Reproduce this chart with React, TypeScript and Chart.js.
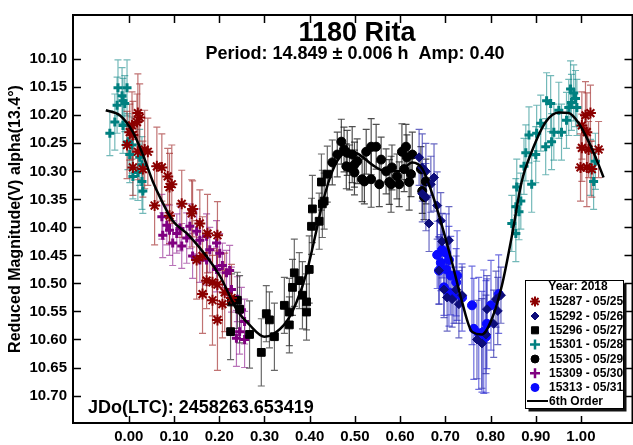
import React, { useEffect, useRef } from 'react';
import { Chart, registerables } from 'chart.js';
import { drawPoint } from 'chart.js/helpers';

Chart.register(...registerables);

const FONT = "'Liberation Sans', Arial, Helvetica, sans-serif";

// ---- texts ----
const titleText = '1180 Rita';
const subtitleText = 'Period: 14.849 ± 0.006 h  Amp: 0.40';
const epochText = 'JDo(LTC): 2458263.653419';
const yAxisTitle = 'Reduced Magnitude(V) alpha(13.4°)';
const legendHeader = 'Year: 2018';
const fitLabel = '6th Order';

// ---- axes ----
const xTicks = [0, 0.1, 0.2, 0.3, 0.4, 0.5, 0.6, 0.7, 0.8, 0.9, 1.0];
const yTicks = [10.1, 10.15, 10.2, 10.25, 10.3, 10.35, 10.4, 10.45, 10.5, 10.55, 10.6, 10.65, 10.7];
const xRange = [-0.1235, 1.114];
const yRange = [10.021, 10.749];

// ---- observations: [phase, reduced mag, error] ----
type Obs = [number, number, number];

const s15287: Obs[] = [
  [0.020, 10.196, 0.07], [0.024, 10.204, 0.06], [0.018, 10.212, 0.05], [0.007, 10.218, 0.06],
  [0.002, 10.230, 0.05], [0.009, 10.235, 0.06], [-0.004, 10.253, 0.06], [0.020, 10.265, 0.05],
  [0.035, 10.261, 0.07], [0.042, 10.265, 0.06], [0.009, 10.293, 0.05], [0.031, 10.296, 0.05],
  [0.062, 10.291, 0.07], [0.073, 10.293, 0.06], [0.086, 10.309, 0.05], [0.090, 10.328, 0.06],
  [0.095, 10.323, 0.07], [0.057, 10.361, 0.07], [0.117, 10.358, 0.06], [0.141, 10.367, 0.05],
  [0.139, 10.375, 0.06], [0.090, 10.379, 0.05], [0.157, 10.393, 0.06], [0.174, 10.411, 0.07],
  [0.196, 10.414, 0.06], [0.163, 10.451, 0.07], [0.185, 10.498, 0.06], [0.150, 10.458, 0.07],
  [0.172, 10.495, 0.05], [0.196, 10.502, 0.06], [0.163, 10.519, 0.07], [0.185, 10.530, 0.08],
  [0.196, 10.565, 0.09], [0.207, 10.537, 0.06], [0.212, 10.516, 0.07], [0.227, 10.526, 0.06],
  [1.010, 10.200, 0.06], [1.021, 10.196, 0.05], [1.002, 10.218, 0.06], [1.013, 10.230, 0.07],
  [1.002, 10.258, 0.06], [1.017, 10.261, 0.05], [1.039, 10.261, 0.05], [0.999, 10.293, 0.06],
  [1.013, 10.293, 0.07], [1.024, 10.296, 0.05],
];

const s15292: Obs[] = [
  [0.642, 10.275, 0.05], [0.649, 10.293, 0.06], [0.657, 10.300, 0.05], [0.675, 10.311, 0.06],
  [0.649, 10.340, 0.05], [0.657, 10.346, 0.06], [0.668, 10.323, 0.05], [0.682, 10.361, 0.06],
  [0.664, 10.393, 0.05], [0.690, 10.388, 0.05], [0.708, 10.423, 0.06], [0.693, 10.425, 0.05],
  [0.686, 10.477, 0.06], [0.697, 10.511, 0.05], [0.704, 10.525, 0.06], [0.715, 10.528, 0.05],
  [0.724, 10.511, 0.06], [0.737, 10.521, 0.05], [0.730, 10.537, 0.06], [0.770, 10.600, 0.07],
  [0.781, 10.607, 0.08], [0.790, 10.591, 0.07], [0.807, 10.572, 0.06], [0.816, 10.549, 0.06],
  [0.812, 10.528, 0.05], [0.823, 10.521, 0.05], [0.792, 10.546, 0.06],
];

const s15296: Obs[] = [
  [0.227, 10.533, 0.05], [0.240, 10.530, 0.05], [0.245, 10.546, 0.06], [0.225, 10.586, 0.05],
  [0.267, 10.591, 0.06], [0.293, 10.623, 0.06], [0.304, 10.554, 0.05], [0.311, 10.565, 0.05],
  [0.322, 10.595, 0.06], [0.344, 10.539, 0.05], [0.355, 10.551, 0.06], [0.355, 10.574, 0.05],
  [0.362, 10.507, 0.05], [0.366, 10.481, 0.06], [0.377, 10.495, 0.05], [0.384, 10.521, 0.06],
  [0.393, 10.533, 0.05], [0.393, 10.551, 0.05], [0.399, 10.475, 0.06], [0.404, 10.398, 0.05],
  [0.406, 10.367, 0.06], [0.421, 10.389, 0.05], [0.428, 10.358, 0.06], [0.426, 10.319, 0.05],
  [0.432, 10.353, 0.05], [0.439, 10.305, 0.05],
];

const s15301: Obs[] = [
  [-0.024, 10.151, 0.05], [-0.015, 10.165, 0.05], [-0.004, 10.151, 0.05], [-0.013, 10.174, 0.04],
  [-0.026, 10.182, 0.05], [-0.009, 10.179, 0.05], [-0.031, 10.212, 0.05], [-0.042, 10.232, 0.04],
  [-0.013, 10.218, 0.05], [-0.002, 10.247, 0.05], [0.007, 10.253, 0.05], [0.002, 10.270, 0.05],
  [0.024, 10.275, 0.05], [0.029, 10.288, 0.05], [0.020, 10.302, 0.05], [0.029, 10.318, 0.05],
  [0.009, 10.309, 0.04], [0.031, 10.335, 0.04],
  [0.977, 10.153, 0.05], [0.984, 10.160, 0.05], [0.988, 10.170, 0.05], [0.979, 10.177, 0.05],
  [0.973, 10.186, 0.05], [0.991, 10.186, 0.05], [0.924, 10.174, 0.05], [0.933, 10.179, 0.05],
  [0.951, 10.191, 0.05], [0.968, 10.209, 0.05], [0.911, 10.214, 0.05], [0.885, 10.235, 0.05],
  [0.902, 10.232, 0.05], [0.940, 10.230, 0.05], [0.957, 10.230, 0.05], [0.935, 10.247, 0.05],
  [0.922, 10.256, 0.05], [0.878, 10.267, 0.05], [0.900, 10.270, 0.05], [0.874, 10.291, 0.05],
  [0.891, 10.323, 0.05], [0.858, 10.328, 0.05], [0.856, 10.363, 0.05], [0.863, 10.372, 0.05],
  [0.847, 10.393, 0.05], [0.856, 10.411, 0.05], [1.032, 10.282, 0.05], [1.028, 10.318, 0.05],
  [1.021, 10.293, 0.05], [0.867, 10.353, 0.05],
];

const s15305: Obs[] = [
  [0.450, 10.284, 0.04], [0.470, 10.247, 0.04], [0.476, 10.261, 0.04], [0.461, 10.270, 0.04],
  [0.483, 10.267, 0.04], [0.494, 10.270, 0.05], [0.488, 10.293, 0.04], [0.499, 10.288, 0.04],
  [0.481, 10.291, 0.04], [0.499, 10.302, 0.04], [0.525, 10.265, 0.04], [0.536, 10.256, 0.05],
  [0.547, 10.256, 0.04], [0.521, 10.318, 0.04], [0.536, 10.314, 0.05], [0.558, 10.279, 0.04],
  [0.554, 10.323, 0.04], [0.569, 10.300, 0.04], [0.576, 10.319, 0.04], [0.580, 10.323, 0.05],
  [0.582, 10.293, 0.04], [0.598, 10.323, 0.04], [0.604, 10.265, 0.05], [0.613, 10.256, 0.04],
  [0.615, 10.275, 0.04], [0.609, 10.296, 0.04], [0.624, 10.305, 0.04], [0.620, 10.319, 0.05],
  [0.627, 10.270, 0.04], [0.646, 10.296, 0.04], [0.657, 10.318, 0.04], [0.649, 10.335, 0.04],
  [0.653, 10.346, 0.04], [0.593, 10.309, 0.04], [0.516, 10.314, 0.04], [0.505, 10.282, 0.04],
];

const s15309: Obs[] = [
  [0.073, 10.381, 0.04], [0.084, 10.396, 0.035], [0.075, 10.414, 0.04], [0.090, 10.405, 0.045],
  [0.097, 10.428, 0.04], [0.106, 10.411, 0.035], [0.113, 10.402, 0.04], [0.117, 10.433, 0.04],
  [0.128, 10.419, 0.045], [0.135, 10.398, 0.04], [0.150, 10.407, 0.04], [0.157, 10.423, 0.035],
  [0.157, 10.458, 0.04], [0.172, 10.416, 0.04], [0.172, 10.458, 0.045], [0.179, 10.440, 0.04],
  [0.194, 10.428, 0.04], [0.194, 10.475, 0.04], [0.201, 10.446, 0.035], [0.207, 10.468, 0.04],
  [0.216, 10.481, 0.04], [0.223, 10.477, 0.045], [0.227, 10.511, 0.04], [0.240, 10.528, 0.04],
  [0.249, 10.547, 0.04], [0.256, 10.568, 0.04], [0.245, 10.586, 0.04], [0.256, 10.600, 0.05],
  [0.238, 10.598, 0.05], [0.141, 10.451, 0.04],
];

const s15313: Obs[] = [
  [0.682, 10.449, 0.06], [0.693, 10.440, 0.05], [0.702, 10.446, 0.07], [0.690, 10.463, 0.05],
  [0.708, 10.458, 0.06], [0.702, 10.475, 0.05], [0.686, 10.477, 0.06], [0.712, 10.486, 0.07],
  [0.724, 10.498, 0.06], [0.726, 10.486, 0.08], [0.697, 10.507, 0.05], [0.708, 10.516, 0.06],
  [0.719, 10.521, 0.05], [0.737, 10.525, 0.06], [0.759, 10.539, 0.07], [0.763, 10.581, 0.09],
  [0.774, 10.589, 0.10], [0.781, 10.604, 0.09], [0.790, 10.595, 0.10], [0.792, 10.572, 0.08],
  [0.785, 10.586, 0.11], [0.801, 10.539, 0.08], [0.818, 10.519, 0.07],
];

// ---- 6th order fit curve: [phase, mag] ----
const fitCurve: [number, number][] = [
  [-0.051, 10.191], [-0.020, 10.200], [0.009, 10.230], [0.031, 10.270], [0.053, 10.318],
  [0.073, 10.353], [0.097, 10.388], [0.135, 10.416], [0.201, 10.486], [0.238, 10.546],
  [0.267, 10.574], [0.300, 10.595], [0.318, 10.591], [0.349, 10.568], [0.371, 10.533],
  [0.393, 10.481], [0.415, 10.405], [0.428, 10.358], [0.450, 10.300], [0.472, 10.270],
  [0.494, 10.265], [0.510, 10.270], [0.538, 10.288], [0.569, 10.300], [0.598, 10.300],
  [0.627, 10.284], [0.649, 10.295], [0.671, 10.340], [0.693, 10.398], [0.715, 10.463],
  [0.737, 10.533], [0.759, 10.586], [0.781, 10.591], [0.803, 10.563], [0.825, 10.504],
  [0.847, 10.416], [0.869, 10.318], [0.891, 10.265], [0.922, 10.212], [0.951, 10.195],
  [0.973, 10.196], [0.995, 10.214], [1.017, 10.247], [1.039, 10.288], [1.050, 10.311],
];

const seriesLabels = ['15287 - 05/25', '15292 - 05/26', '15296 - 05/27', '15301 - 05/28', '15305 - 05/29', '15309 - 05/30', '15313 - 05/31'];
const seriesData = [s15287, s15292, s15296, s15301, s15305, s15309, s15313];

const seriesStyle = [
  { pointStyle: 'star', color: '#8b0000', err: 'rgba(160,40,40,0.65)', r: 5.5, bw: 2, lr: 5, lbw: 2 },
  { pointStyle: 'rectRot', color: '#0c0c7a', err: 'rgba(40,40,170,0.7)', r: 4.5, bw: 1, lr: 4, lbw: 1 },
  { pointStyle: 'rect', color: '#000000', err: 'rgba(40,40,40,0.7)', r: 5.5, bw: 1, lr: 5, lbw: 1 },
  { pointStyle: 'cross', color: '#008080', err: 'rgba(0,128,128,0.55)', r: 4.5, bw: 3, lr: 5, lbw: 2.5 },
  { pointStyle: 'circle', color: '#000000', err: 'rgba(20,20,20,0.75)', r: 4.5, bw: 1, lr: 4, lbw: 1 },
  { pointStyle: 'cross', color: '#800080', err: 'rgba(128,0,128,0.55)', r: 4.5, bw: 3, lr: 5, lbw: 2.5 },
  { pointStyle: 'circle', color: '#0a0aff', err: 'rgba(50,50,210,0.7)', r: 4.5, bw: 1, lr: 4, lbw: 1 },
];

const decorPlugin = {
  id: 'decor',
  beforeDatasetsDraw(chart: any) {
    const { ctx, chartArea, scales } = chart;
    const xs = scales.x, ys = scales.y;
    ctx.save();
    ctx.beginPath();
    ctx.rect(chartArea.left, chartArea.top, chartArea.right - chartArea.left, chartArea.bottom - chartArea.top);
    ctx.clip();
    ctx.lineWidth = 1.2;
    for (let i = seriesData.length - 1; i >= 0; i--) {
      ctx.strokeStyle = seriesStyle[i].err;
      for (const [x, y, e] of seriesData[i]) {
        const px = xs.getPixelForValue(x);
        const p1 = ys.getPixelForValue(y - e);
        const p2 = ys.getPixelForValue(y + e);
        ctx.beginPath();
        ctx.moveTo(px, p1); ctx.lineTo(px, p2);
        ctx.moveTo(px - 3.5, p1); ctx.lineTo(px + 3.5, p1);
        ctx.moveTo(px - 3.5, p2); ctx.lineTo(px + 3.5, p2);
        ctx.stroke();
      }
    }
    ctx.restore();
  },
  afterDraw(chart: any) {
    const { ctx, chartArea, scales } = chart;
    const xs = scales.x, ys = scales.y;
    const { left, right, top, bottom } = chartArea;
    ctx.save();
    // frame
    ctx.strokeStyle = '#000';
    ctx.lineWidth = 2;
    ctx.beginPath();
    ctx.moveTo(left, bottom); ctx.lineTo(left, top); ctx.lineTo(right, top); ctx.lineTo(right, bottom); ctx.closePath();
    ctx.stroke();
    // inward ticks
    ctx.lineWidth = 1.5;
    ctx.beginPath();
    for (const v of xTicks) {
      const px = Math.round(xs.getPixelForValue(v)) + 0.5;
      ctx.moveTo(px, top); ctx.lineTo(px, top + 8);
      ctx.moveTo(px, bottom); ctx.lineTo(px, bottom - 7);
    }
    for (const v of yTicks) {
      const py = Math.round(ys.getPixelForValue(v)) + 0.5;
      ctx.moveTo(left, py); ctx.lineTo(left + 8, py);
      ctx.moveTo(right, py); ctx.lineTo(right - 8, py);
    }
    ctx.stroke();

    // titles
    ctx.fillStyle = '#000';
    ctx.textBaseline = 'alphabetic';
    ctx.textAlign = 'center';
    ctx.font = `bold 27px ${FONT}`;
    ctx.fillText(titleText, 357, 41);
    ctx.font = `bold 18px ${FONT}`;
    ctx.fillText(subtitleText, 355, 58.5);
    ctx.textAlign = 'left';
    ctx.font = `bold 18px ${FONT}`;
    ctx.fillText(epochText, 88, 413);

    // legend
    const bx = 525.5, by = 280.5, bw = 98, bh = 128;
    ctx.fillStyle = '#111';
    ctx.fillRect(bx + 3, by + 3, bw, bh);
    ctx.fillStyle = '#fff';
    ctx.fillRect(bx, by, bw, bh);
    ctx.strokeStyle = '#000';
    ctx.lineWidth = 1;
    ctx.strokeRect(bx, by, bw, bh);
    ctx.fillStyle = '#000';
    ctx.font = `bold 12px ${FONT}`;
    ctx.textAlign = 'center';
    ctx.textBaseline = 'middle';
    ctx.fillText(legendHeader, 578, 287);
    ctx.textAlign = 'left';
    const rowY = [301.5, 316, 330.3, 344.6, 359, 373.3, 387.5];
    seriesLabels.forEach((lab, i) => {
      const st = seriesStyle[i];
      ctx.fillStyle = st.color;
      ctx.strokeStyle = st.color;
      ctx.lineWidth = st.lbw;
      drawPoint(ctx, { pointStyle: st.pointStyle, radius: st.lr, borderWidth: st.lbw, rotation: 0 } as any, 535, rowY[i]);
      ctx.fillStyle = '#000';
      ctx.fillText(lab, 549, rowY[i] + 0.5);
    });
    ctx.strokeStyle = '#000';
    ctx.lineWidth = 2;
    ctx.beginPath();
    ctx.moveTo(527, 401); ctx.lineTo(548, 401);
    ctx.stroke();
    ctx.fillStyle = '#000';
    ctx.fillText(fitLabel, 549, 401.5);
    ctx.restore();
  },
};

export default function App() {
  const ref = useRef<HTMLCanvasElement | null>(null);
  useEffect(() => {
    document.documentElement.style.overflow = 'hidden';
    document.body.style.overflow = 'hidden';
    const canvas = ref.current;
    if (!canvas) return;
    const datasets: any[] = [
      {
        type: 'line',
        label: fitLabel,
        data: fitCurve.map(([x, y]) => ({ x, y })),
        borderColor: '#000',
        borderWidth: 2.5,
        pointRadius: 0,
        cubicInterpolationMode: 'monotone',
        fill: false,
      },
      ...seriesData.map((arr, i) => ({
        type: 'scatter',
        label: seriesLabels[i],
        data: arr.map(([x, y]) => ({ x, y })),
        pointStyle: seriesStyle[i].pointStyle,
        pointRadius: seriesStyle[i].r,
        pointBorderWidth: seriesStyle[i].bw,
        borderWidth: seriesStyle[i].bw,
        backgroundColor: seriesStyle[i].color,
        borderColor: seriesStyle[i].color,
      })),
    ];
    const tickFont = { family: FONT, size: 15, weight: 'bold' as const };
    const chart = new Chart(canvas, {
      type: 'scatter',
      data: { datasets },
      options: {
        animation: false,
        responsive: false,
        layout: { padding: { top: 8, right: 6, left: 0, bottom: 0 } },
        plugins: { legend: { display: false }, tooltip: { enabled: false }, title: { display: false } },
        scales: {
          x: {
            type: 'linear',
            min: xRange[0],
            max: xRange[1],
            afterBuildTicks: (axis: any) => { axis.ticks = xTicks.map((v) => ({ value: v })); },
            afterFit: (s: any) => { s.height = 22; },
            ticks: {
              callback: (v: any) => Number(v).toFixed(2),
              font: tickFont,
              color: '#000',
              padding: 5,
              maxRotation: 0,
              autoSkip: false,
            },
            grid: { display: false, drawTicks: false },
            border: { display: false },
          },
          y: {
            type: 'linear',
            reverse: true,
            min: yRange[0],
            max: yRange[1],
            afterBuildTicks: (axis: any) => { axis.ticks = yTicks.map((v) => ({ value: v })); },
            afterFit: (s: any) => { s.width = 73; },
            ticks: {
              callback: (v: any) => Number(v).toFixed(2),
              font: tickFont,
              color: '#000',
              padding: 6,
              autoSkip: false,
            },
            grid: { display: false, drawTicks: false },
            border: { display: false },
            title: {
              display: true,
              text: yAxisTitle,
              color: '#000',
              font: { family: FONT, size: 16, weight: 'bold', lineHeight: 1 },
              padding: { top: 8, bottom: 0 },
            },
          },
        },
      } as any,
      plugins: [decorPlugin],
    });
    return () => chart.destroy();
  }, []);
  return (
    <div style={{ position: 'absolute', left: 0, top: 0, width: 640, height: 445 }}>
      <canvas ref={ref} width={640} height={445} />
    </div>
  );
}
